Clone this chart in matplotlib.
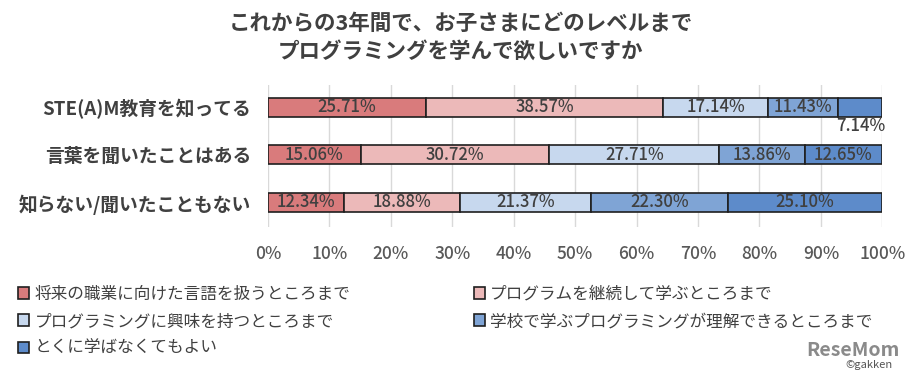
import numpy as np
import matplotlib.pyplot as plt

plt.rcParams['font.family'] = ['Noto Sans CJK JP', 'DejaVu Sans']

# 回答グループ（上から順）
groups = ["STE(A)M教育を知ってる", "言葉を聞いたことはある", "知らない/聞いたこともない"]

# 各レベル（%）
levels = [
    "将来の職業に向けた言語を扱うところまで",
    "プログラムを継続して学ぶところまで",
    "プログラミングに興味を持つところまで",
    "学校で学ぶプログラミングが理解できるところまで",
    "とくに学ばなくてもよい",
]
career = [25.71, 15.06, 12.34]
keep_learning = [38.57, 30.72, 18.88]
interest = [17.14, 27.71, 21.37]
school = [11.43, 13.86, 22.30]
none_needed = [7.14, 12.65, 25.10]
series = [career, keep_learning, interest, school, none_needed]

colors = ["#d97b7c", "#ecb9b9", "#c7d8ee", "#7fa4d5", "#5d8bca"]
text_col = "#404040"

fig = plt.figure(figsize=(9.21, 3.73), dpi=100)
ax = fig.add_axes([0.291, 0.391, 0.667, 0.381])

y = np.arange(len(groups))[::-1]
left = np.zeros(len(groups))
handles = []
for name, vals, c in zip(levels, series, colors):
    vals = np.array(vals)
    b = ax.barh(y, vals, left=left, height=0.4, color=c, edgecolor="#1f1f1f",
                linewidth=1.2, label=name, zorder=3)
    handles.append(b)
    for yi, l, v in zip(y, left, vals):
        # 小さい区間はバーの下に表示
        ty = yi - 0.4 if v < 10 else yi
        ax.text(l + v / 2, ty, f"{v:.2f}%", ha="center", va="center",
                fontsize=12, color=text_col, fontweight="medium", zorder=4)
    left += vals

ax.set_xlim(0, 100)
ax.set_ylim(-0.52, 2.47)
ax.set_xticks(np.arange(0, 101, 10))
ax.set_xticklabels([f"{t}%" for t in range(0, 101, 10)], fontsize=12.5,
                   color="#595959", fontweight="medium")
ax.set_yticks(y)
ax.set_yticklabels(groups, fontsize=13.5, fontweight="bold", color=text_col)
ax.tick_params(axis="y", length=0, pad=12)
ax.tick_params(axis="x", length=0, pad=13)
ax.grid(axis="x", color="#d9d9d9", linewidth=1, zorder=0)
for s in ax.spines.values():
    s.set_visible(False)

fig.text(0.5, 0.90, "これからの3年間で、お子さまにどのレベルまで\nプログラミングを学んで欲しいですか",
         ha="center", va="center", fontsize=15.5, fontweight="bold", color=text_col,
         linespacing=1.4)

order = [0, 2, 4, 1, 3]
leg = fig.legend([handles[i] for i in order], [levels[i] for i in order],
                 ncol=2, loc="upper left", bbox_to_anchor=(0.012, 0.252),
                 frameon=False, fontsize=12, handlelength=0.7, handleheight=0.7,
                 handletextpad=0.3, columnspacing=7.4, labelspacing=0.62,
                 borderaxespad=0)
for t in leg.get_texts():
    t.set_color(text_col)

fig.text(0.875, 0.06, "ReseMom", fontsize=14, fontweight="bold", color="#8a8a8a",
         ha="left", va="center")
fig.text(0.918, 0.022, "©gakken", fontsize=8, color="#555555", ha="left", va="center")

fig.savefig("out.png", dpi=100)
